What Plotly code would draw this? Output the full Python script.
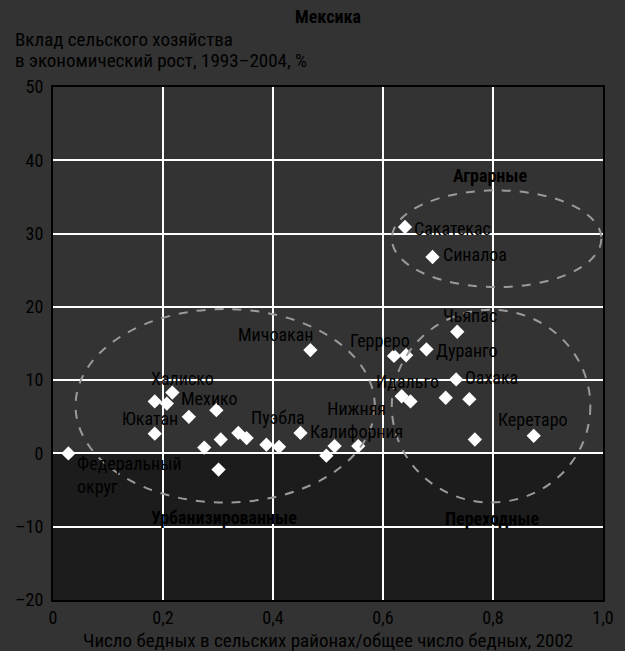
import plotly.graph_objects as go

# Data: share of rural poor (x) vs agriculture contribution to growth (y)
x_vals = [0.028, 0.185, 0.207, 0.217, 0.185, 0.247, 0.297, 0.305, 0.275, 0.301,
          0.337, 0.352, 0.388, 0.411, 0.450, 0.468, 0.497, 0.512, 0.555,
          0.620, 0.642, 0.679, 0.735, 0.733, 0.634, 0.650, 0.714, 0.757,
          0.767, 0.874, 0.640, 0.690]
y_vals = [0.0, 7.1, 6.8, 8.3, 2.7, 5.0, 5.9, 1.9, 0.8, -2.2,
          2.8, 2.1, 1.2, 0.9, 2.8, 14.1, -0.3, 1.0, 1.0,
          13.3, 13.4, 14.2, 16.6, 10.1, 7.8, 7.1, 7.6, 7.4,
          1.9, 2.4, 30.9, 26.8]

label_texts = ["Федеральный<br>округ", "Юкатан", "Халиско", "Мехико", "Мичоакан", "Пуэбла",
               "Нижняя<br>Калифорния", "Герреро", "Чьяпас", "Дуранго", "Идальго", "Оахака",
               "Керетаро", "Сакатекас", "Синалоа"]
label_x = [0.040, 0.177, 0.235, 0.285, 0.405, 0.409, 0.552, 0.594, 0.758, 0.753, 0.644,
           0.797, 0.872, 0.727, 0.768]
label_y = [-3.0, 4.8, 10.2, 7.5, 16.2, 4.9, 4.5, 15.4, 18.8, 14.1, 9.8, 10.3, 4.6, 30.7, 27.1]

group_names = ["Аграрные", "Урбанизированные", "Переходные"]
group_x = [0.795, 0.310, 0.799]
group_y = [37.9, -8.7, -8.9]

# ellipses: x0, x1, y0, y1
ellipses = [(0.041, 0.585, -6.7, 19.7), (0.616, 0.977, -6.7, 19.6), (0.616, 0.997, 22.7, 35.9)]

x_ticks = [0, 0.2, 0.4, 0.6, 0.8, 1.0]
x_ticktext = ["0", "0,2", "0,4", "0,6", "0,8", "1,0"]
y_ticks = [-20, -10, 0, 10, 20, 30, 40, 50]
y_ticktext = ["–20", "–10", "0", "10", "20", "30", "40", "50"]

FONT = "Roboto Condensed, DejaVu Sans Condensed, sans-serif"
BG = "#333333"
TXT = "#000000"
FS = 18

L, R, T, B = 53, 22, 87, 51
H = 651 - T - B
W = 625 - L - R


def px_x(p):
    return (p - L) / W


def px_y(p):
    return (651 - B - p) / H


fig = go.Figure()
fig.add_trace(go.Scatter(x=x_vals, y=y_vals, mode="markers",
                         marker=dict(symbol="diamond", color="white", size=11,
                                     line=dict(width=0)),
                         hoverinfo="x+y", showlegend=False))

shapes = [dict(type="rect", xref="x", yref="y", x0=0, x1=1, y0=-20, y1=0,
               fillcolor="#1c1c1c", line=dict(width=0), layer="below")]
for (x0, x1, y0, y1) in ellipses:
    shapes.append(dict(type="circle", xref="x", yref="y", x0=x0, x1=x1, y0=y0, y1=y1,
                       line=dict(color="#9a9a9a", width=2, dash="dash"), layer="above"))

annotations = []
for t, lx, ly in zip(label_texts, label_x, label_y):
    left = t.startswith("Федеральный")
    annotations.append(dict(x=lx, y=ly, text=t, showarrow=False,
                            xanchor="left" if left else "center",
                            yanchor="middle", align="left" if left else "center",
                            font=dict(family=FONT, size=FS, color=TXT)))
for t, gx, gy in zip(group_names, group_x, group_y):
    annotations.append(dict(x=gx, y=gy, text="<b>" + t + "</b>", showarrow=False,
                            xanchor="center", yanchor="middle",
                            font=dict(family=FONT, size=FS, color=TXT)))

annotations.append(dict(xref="paper", yref="paper", x=0.5, y=px_y(17),
                        text="<b>Мексика</b>", showarrow=False, xanchor="center",
                        yanchor="middle", font=dict(family=FONT, size=FS, color=TXT)))
for txt, py in [("Вклад сельского хозяйства", 39), ("в экономический рост, 1993–2004, %", 60.5)]:
    annotations.append(dict(xref="paper", yref="paper", x=px_x(13), y=px_y(py),
                            text=txt, showarrow=False, xanchor="left", yanchor="middle",
                            font=dict(family=FONT, size=19, color=TXT)))
annotations.append(dict(xref="paper", yref="paper", x=0.5, y=px_y(640),
                        text="Число бедных в сельских районах/общее число бедных, 2002",
                        showarrow=False, xanchor="center", yanchor="middle",
                        font=dict(family=FONT, size=19, color=TXT)))

fig.update_layout(
    width=625, height=651,
    margin=dict(l=L, r=R, t=T, b=B),
    paper_bgcolor=BG, plot_bgcolor=BG,
    shapes=shapes, annotations=annotations,
    font=dict(family=FONT, size=FS, color=TXT),
    xaxis=dict(range=[0, 1], tickvals=x_ticks, ticktext=x_ticktext, automargin=False,
               showgrid=True, gridcolor="white", gridwidth=2, zeroline=False,
               showline=True, linecolor="black", linewidth=2, mirror=True,
               ticks="", tickfont=dict(family=FONT, size=FS, color=TXT)),
    yaxis=dict(range=[-20, 50], tickvals=y_ticks, ticktext=y_ticktext, automargin=False,
               showgrid=True, gridcolor="white", gridwidth=2, zeroline=False,
               showline=True, linecolor="black", linewidth=2, mirror=True,
               ticks="", ticklabelstandoff=4,
               tickfont=dict(family=FONT, size=FS, color=TXT)),
)

fig.write_html("out.html", config={"displayModeBar": False},
               post_script="document.body.style.margin='0';")
